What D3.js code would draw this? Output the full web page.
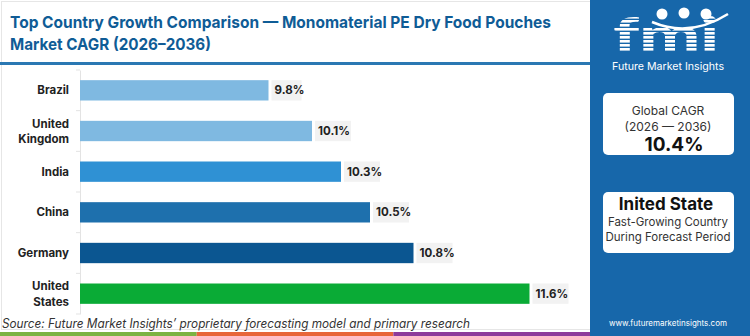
<!DOCTYPE html>
<html>
<head>
<meta charset="utf-8">
<script src="https://cdn.jsdelivr.net/npm/d3@7"></script>
<style>
  body { margin: 0; background: #fff; }
  svg { display: block; font-family: Inter, "Open Sans", sans-serif; }
</style>
</head>
<body>
<div id="chart"></div>
<script>
// Data
var countries = ["Brazil", "United Kingdom", "India", "China", "Germany", "United States"];
var cagr = [9.8, 10.1, 10.3, 10.5, 10.8, 11.6];
var barColors = ["#7fb9e1", "#7fb9e1", "#2f91d4", "#1e70ad", "#0b5691", "#0aab36"];
var globalCagr = "10.4%";
var topCountry = "Inited State";

var W = 750, H = 336;
var panelX = 590;

var svg = d3.select("#chart").append("svg")
  .attr("width", W)
  .attr("height", H)

// frame
svg.append("rect")
  .attr("x", 1.5).attr("y", 1.5)
  .attr("width", panelX).attr("height", H - 8)
  .attr("fill", "none").attr("stroke", "#e6e6e6")

// Title
var title = svg.append("g").attr("fill", "#0f5c96").attr("font-weight", 700).attr("font-size", 16.5)
title.append("text").attr("x", 10).attr("y", 28)
  .attr("textLength", 541).attr("lengthAdjust", "spacingAndGlyphs")
  .text("Top Country Growth Comparison \u2014 Monomaterial PE Dry Food Pouches")
title.append("text").attr("x", 10).attr("y", 50)
  .attr("textLength", 201).attr("lengthAdjust", "spacingAndGlyphs")
  .text("Market CAGR (2026\u20132036)")

svg.append("rect")
  .attr("x", 0).attr("y", 62).attr("width", panelX).attr("height", 3)
  .attr("fill", "#2a78b3")

// Scales
var y = d3.scaleBand()
  .domain(countries)
  .range([70, 314])
  .paddingInner(0.5)
  .paddingOuter(0.25)

var x = d3.scaleLinear()
  .domain([8.5, 12])
  .range([80, 587.5])

// Axis
var yAxis = d3.axisLeft(y).tickSize(0).tickFormat("")
var gAxis = svg.append("g")
  .attr("transform", "translate(80,0)")
  .call(yAxis)
gAxis.select(".domain").attr("stroke", "#e3e3e3")

// boundary ticks between bands
var bounds = countries.map(function(c){ return y(c) - y.step() * y.paddingInner() / 2; })
bounds.push(y(countries[countries.length - 1]) + y.bandwidth() + y.step() * y.paddingInner() / 2)
svg.selectAll(".btick").data(bounds).enter().append("line")
  .attr("class", "btick")
  .attr("x1", 76).attr("x2", 80)
  .attr("y1", function(d){ return d; }).attr("y2", function(d){ return d; })
  .attr("stroke", "#e3e3e3")

// Category labels
var labels = svg.selectAll(".cat").data(countries).enter().append("text")
  .attr("class", "cat")
  .attr("text-anchor", "end")
  .attr("font-size", 11.5)
  .attr("font-weight", 700)
  .attr("fill", "#222")
labels.each(function(d){
  var words = d.split(" ");
  var cy = y(d) + y.bandwidth() / 2;
  var t = d3.select(this);
  if (words.length == 1) {
    t.append("tspan").attr("x", 69).attr("y", cy + 4).text(d)
  } else {
    t.append("tspan").attr("x", 69).attr("y", cy - 3.5).text(words[0])
    t.append("tspan").attr("x", 69).attr("y", cy + 12).text(words.slice(1).join(" "))
  }
})

// Bars
svg.selectAll(".bar").data(countries).enter().append("rect")
  .attr("class", "bar")
  .attr("x", x(8.5))
  .attr("y", function(d){ return y(d); })
  .attr("width", function(d, i){ return x(cagr[i]) - x(8.5); })
  .attr("height", y.bandwidth())
  .attr("fill", function(d, i){ return barColors[i]; })

// Value labels
var vals = svg.selectAll(".val").data(countries).enter().append("g")
  .attr("class", "val")
  .attr("transform", function(d, i){ return "translate(" + (x(cagr[i]) + 3) + "," + y(d) + ")"; })
vals.append("rect")
  .attr("width", function(d, i){ return cagr[i] >= 10 ? 36 : 30; })
  .attr("height", y.bandwidth())
  .attr("fill", "#f2f2f2")
vals.append("text")
  .attr("x", 3).attr("y", y.bandwidth() / 2 + 4)
  .attr("font-size", 11.5).attr("font-weight", 700).attr("fill", "#222")
  .text(function(d, i){ return cagr[i].toFixed(1) + "%"; })

// Source
svg.append("text")
  .attr("x", 2).attr("y", 328)
  .attr("font-size", 12.5).attr("font-style", "italic").attr("fill", "#333")
  .attr("textLength", 468).attr("lengthAdjust", "spacingAndGlyphs")
  .text("Source: Future Market Insights\u2019 proprietary forecasting model and primary research")

// bottom strip
var strip = ["#7cb342", "#e8663a", "#8e3b9b"]
svg.selectAll(".strip").data(strip).enter().append("rect")
  .attr("x", function(d, i){ return i * 196.7; })
  .attr("y", 332).attr("width", 196.7).attr("height", 4)
  .attr("fill", function(d){ return d; })

// Right panel
svg.append("rect")
  .attr("x", panelX).attr("y", 0).attr("width", W - panelX).attr("height", H)
  .attr("fill", "#1767aa")

// logo: striped letters
var defs = svg.append("defs")
var pat = defs.append("pattern")
  .attr("id", "stripes").attr("patternUnits", "userSpaceOnUse")
  .attr("width", 4).attr("height", 4)
pat.append("rect").attr("width", 4).attr("height", 2.6).attr("fill", "#fff")

svg.append("text")
  .attr("x", 666).attr("y", 52)
  .attr("text-anchor", "middle")
  .attr("font-family", "Lato, sans-serif")
  .attr("font-size", 48).attr("font-weight", 900)
  .attr("fill", "url(#stripes)")
  .attr("textLength", 106).attr("lengthAdjust", "spacingAndGlyphs")
  .text("fmi")

var dots = [[662, 14], [684, 13], [706, 14]]
svg.selectAll(".dot").data(dots).enter().append("circle")
  .attr("cx", function(d){ return d[0]; }).attr("cy", function(d){ return d[1]; })
  .attr("r", 5.5).attr("fill", "#fff")
svg.append("path")
  .attr("d", "M652,22 Q690,38 728,14")
  .attr("fill", "none").attr("stroke", "#fff").attr("stroke-width", 2.5)

svg.append("text")
  .attr("x", 668).attr("y", 70).attr("text-anchor", "middle")
  .attr("font-size", 10.5).attr("fill", "#fff")
  .attr("textLength", 112).attr("lengthAdjust", "spacingAndGlyphs")
  .text("Future Market Insights")

// Global CAGR box
svg.append("rect")
  .attr("x", 603).attr("y", 93).attr("width", 131).attr("height", 62)
  .attr("rx", 5).attr("fill", "#fff")
svg.append("text").attr("x", 668).attr("y", 115).attr("text-anchor", "middle")
  .attr("font-size", 12).attr("fill", "#333").text("Global CAGR")
svg.append("text").attr("x", 668).attr("y", 131).attr("text-anchor", "middle")
  .attr("font-size", 12).attr("fill", "#333").text("(2026 \u2014 2036)")
svg.append("text").attr("x", 674).attr("y", 151).attr("text-anchor", "middle")
  .attr("font-size", 19).attr("font-weight", 700).attr("fill", "#111").text(globalCagr)

// top country box
svg.append("rect")
  .attr("x", 603).attr("y", 192).attr("width", 131).attr("height", 61)
  .attr("rx", 5).attr("fill", "#fff")
svg.append("text").attr("x", 666).attr("y", 210).attr("text-anchor", "middle")
  .attr("font-size", 17).attr("font-weight", 700).attr("fill", "#111").text(topCountry)
svg.append("text").attr("x", 668).attr("y", 226).attr("text-anchor", "middle")
  .attr("font-size", 11.5).attr("fill", "#333").text("Fast-Growing Country")
svg.append("text").attr("x", 668).attr("y", 241).attr("text-anchor", "middle")
  .attr("font-size", 11.5).attr("fill", "#333").text("During Forecast Period")

svg.append("text").attr("x", 668).attr("y", 326).attr("text-anchor", "middle")
  .attr("font-size", 8).attr("fill", "#fff").text("www.futuremarketinsights.com")
</script>
</body>
</html>
